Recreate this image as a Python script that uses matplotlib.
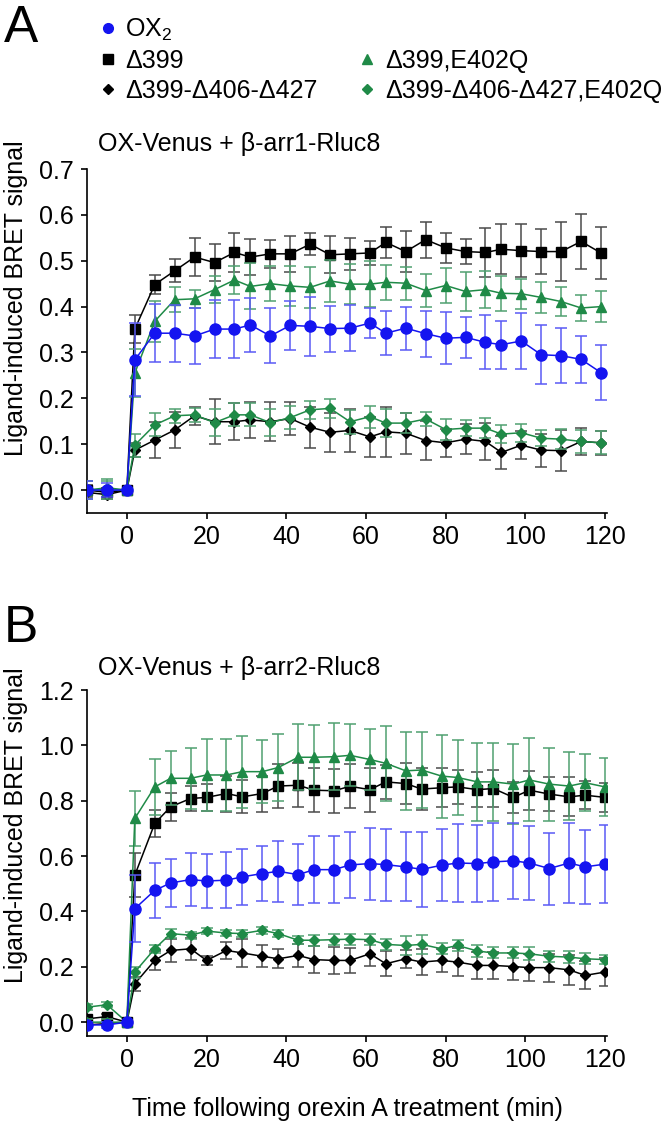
import matplotlib
matplotlib.use("Agg")
import matplotlib.pyplot as plt
from matplotlib.lines import Line2D

plt.rcParams['font.family'] = ['Liberation Sans', 'DejaVu Sans']
plt.rcParams['mathtext.fontset'] = 'custom'
plt.rcParams['mathtext.rm'] = 'Liberation Sans'

# ---------------- data ----------------
labels = ["OX$_2$", "Δ399", "Δ399-Δ406-Δ427", "Δ399,E402Q", "Δ399-Δ406-Δ427,E402Q"]

tA = [-10, -5, 0, 2, 7, 12, 17, 22, 27, 31, 36, 41, 46, 51, 56, 61, 65, 70, 75, 80, 85, 90, 94, 99, 104, 109, 114, 119]
A_ox2 = [0.0, 0.0, 0.0, 0.284, 0.342, 0.342, 0.336, 0.351, 0.351, 0.360, 0.336, 0.359, 0.357, 0.352, 0.353, 0.364, 0.342, 0.353, 0.341, 0.331, 0.333, 0.322, 0.317, 0.325, 0.295, 0.293, 0.285, 0.256]
A_ox2_err = [0.02, 0.015, 0.0, 0.08, 0.063, 0.062, 0.061, 0.063, 0.063, 0.058, 0.06, 0.053, 0.065, 0.05, 0.05, 0.033, 0.048, 0.047, 0.05, 0.057, 0.045, 0.059, 0.052, 0.06, 0.064, 0.06, 0.051, 0.06]
A_d399 = [0.0, -0.005, 0.0, 0.351, 0.448, 0.478, 0.508, 0.496, 0.518, 0.508, 0.515, 0.515, 0.536, 0.513, 0.515, 0.517, 0.54, 0.52, 0.546, 0.528, 0.52, 0.518, 0.525, 0.522, 0.52, 0.52, 0.542, 0.517]
A_d399_err = [0.01, 0.01, 0.0, 0.03, 0.02, 0.025, 0.042, 0.04, 0.043, 0.04, 0.03, 0.04, 0.024, 0.04, 0.035, 0.027, 0.034, 0.045, 0.039, 0.032, 0.027, 0.054, 0.055, 0.058, 0.05, 0.065, 0.06, 0.057]
A_trip = [-0.005, -0.01, 0.0, 0.087, 0.109, 0.131, 0.162, 0.149, 0.149, 0.153, 0.149, 0.156, 0.137, 0.126, 0.13, 0.116, 0.127, 0.124, 0.108, 0.103, 0.111, 0.106, 0.082, 0.098, 0.087, 0.086, 0.106, 0.103]
A_trip_err = [0.01, 0.01, 0.0, 0.015, 0.04, 0.04, 0.02, 0.049, 0.04, 0.04, 0.042, 0.035, 0.045, 0.042, 0.047, 0.044, 0.055, 0.045, 0.042, 0.03, 0.033, 0.04, 0.035, 0.03, 0.036, 0.044, 0.03, 0.026]
A_e402q = [0.0, 0.0, 0.0, 0.255, 0.368, 0.415, 0.417, 0.437, 0.458, 0.444, 0.45, 0.445, 0.442, 0.456, 0.449, 0.449, 0.453, 0.451, 0.435, 0.446, 0.433, 0.437, 0.429, 0.428, 0.42, 0.411, 0.397, 0.4]
A_e402q_err = [0.02, 0.02, 0.0, 0.053, 0.045, 0.027, 0.02, 0.03, 0.03, 0.05, 0.038, 0.043, 0.045, 0.045, 0.043, 0.05, 0.038, 0.036, 0.036, 0.039, 0.042, 0.04, 0.038, 0.033, 0.033, 0.031, 0.029, 0.033]
A_tripE = [0.0, 0.005, 0.0, 0.098, 0.142, 0.162, 0.164, 0.147, 0.164, 0.164, 0.147, 0.158, 0.175, 0.178, 0.149, 0.16, 0.146, 0.146, 0.155, 0.132, 0.135, 0.135, 0.122, 0.125, 0.113, 0.111, 0.106, 0.103]
A_tripE_err = [0.02, 0.02, 0.0, 0.025, 0.025, 0.015, 0.015, 0.03, 0.025, 0.025, 0.03, 0.025, 0.02, 0.02, 0.026, 0.024, 0.03, 0.022, 0.015, 0.022, 0.018, 0.022, 0.02, 0.02, 0.018, 0.022, 0.025, 0.025]

tB = [-10, -5, 0, 2, 7, 11, 16, 20, 25, 29, 34, 38, 43, 47, 52, 56, 61, 65, 70, 74, 79, 83, 88, 92, 97, 101, 106, 111, 115, 120]
B_ox2 = [-0.01, -0.01, 0.0, 0.41, 0.476, 0.503, 0.515, 0.51, 0.513, 0.525, 0.537, 0.545, 0.533, 0.551, 0.551, 0.568, 0.573, 0.569, 0.561, 0.552, 0.567, 0.575, 0.573, 0.579, 0.583, 0.575, 0.555, 0.575, 0.561, 0.571]
B_ox2_err = [0.01, 0.01, 0.0, 0.12, 0.1, 0.088, 0.097, 0.098, 0.1, 0.1, 0.1, 0.11, 0.11, 0.12, 0.12, 0.12, 0.13, 0.13, 0.125, 0.135, 0.13, 0.14, 0.14, 0.14, 0.137, 0.132, 0.13, 0.143, 0.135, 0.14]
B_d399 = [0.012, 0.02, 0.0, 0.531, 0.718, 0.778, 0.808, 0.812, 0.826, 0.814, 0.826, 0.853, 0.856, 0.838, 0.836, 0.852, 0.84, 0.868, 0.862, 0.842, 0.847, 0.85, 0.84, 0.844, 0.812, 0.838, 0.824, 0.814, 0.82, 0.812]
B_d399_err = [0.01, 0.01, 0.0, 0.08, 0.05, 0.05, 0.045, 0.05, 0.065, 0.06, 0.065, 0.08, 0.08, 0.08, 0.08, 0.08, 0.08, 0.06, 0.075, 0.075, 0.07, 0.062, 0.063, 0.066, 0.055, 0.07, 0.06, 0.07, 0.05, 0.053]
B_trip = [-0.01, -0.005, 0.0, 0.139, 0.223, 0.259, 0.265, 0.223, 0.259, 0.25, 0.238, 0.229, 0.241, 0.226, 0.223, 0.223, 0.247, 0.211, 0.229, 0.217, 0.223, 0.217, 0.205, 0.205, 0.201, 0.197, 0.197, 0.189, 0.169, 0.181]
B_trip_err = [0.01, 0.01, 0.0, 0.025, 0.035, 0.04, 0.04, 0.015, 0.03, 0.05, 0.04, 0.035, 0.04, 0.05, 0.048, 0.045, 0.045, 0.045, 0.033, 0.048, 0.04, 0.051, 0.048, 0.048, 0.048, 0.048, 0.051, 0.054, 0.051, 0.051]
B_e402q = [0.0, 0.0, 0.0, 0.736, 0.85, 0.881, 0.881, 0.893, 0.893, 0.905, 0.905, 0.92, 0.957, 0.957, 0.959, 0.964, 0.949, 0.935, 0.908, 0.911, 0.889, 0.884, 0.868, 0.868, 0.86, 0.875, 0.86, 0.853, 0.865, 0.85]
B_e402q_err = [0.01, 0.01, 0.0, 0.1, 0.1, 0.097, 0.11, 0.13, 0.13, 0.13, 0.115, 0.12, 0.12, 0.115, 0.12, 0.112, 0.11, 0.135, 0.14, 0.137, 0.15, 0.136, 0.14, 0.14, 0.145, 0.15, 0.132, 0.122, 0.103, 0.106]
B_tripE = [0.054, 0.063, 0.0, 0.181, 0.265, 0.32, 0.314, 0.329, 0.322, 0.32, 0.332, 0.32, 0.296, 0.296, 0.298, 0.3, 0.298, 0.281, 0.277, 0.281, 0.265, 0.277, 0.257, 0.25, 0.25, 0.247, 0.238, 0.235, 0.229, 0.226]
B_tripE_err = [0.01, 0.01, 0.0, 0.02, 0.015, 0.015, 0.012, 0.012, 0.012, 0.012, 0.012, 0.012, 0.015, 0.02, 0.02, 0.02, 0.02, 0.02, 0.036, 0.033, 0.02, 0.021, 0.02, 0.02, 0.02, 0.024, 0.02, 0.021, 0.02, 0.015]

xticks = [0, 20, 40, 60, 80, 100, 120]
yticksA = [0.0, 0.1, 0.2, 0.3, 0.4, 0.5, 0.6, 0.7]
yticksB = [0.0, 0.2, 0.4, 0.6, 0.8, 1.0, 1.2]

# ---------------- styles ----------------
BLUE = "#1414f0"
BLUE_E = "#5a5af5"
GREEN = "#1f8a47"
GREEN_E = "#4fa070"
BLACK = "#000000"
BLACK_E = "#4a4a4a"

styles = [
    dict(marker="o", color=BLUE, ecolor=BLUE_E, ms=8, z=6),        # OX2
    dict(marker="s", color=BLACK, ecolor=BLACK_E, ms=7, z=4),      # d399
    dict(marker="D", color=BLACK, ecolor=BLACK_E, ms=5.2, z=3),    # trip
    dict(marker="^", color=GREEN, ecolor=GREEN_E, ms=7, z=5),      # E402Q
    dict(marker="D", color=GREEN, ecolor=GREEN_E, ms=5.2, z=3.5),  # tripE
]

W, H = 670, 1126
FS = 18
fig = plt.figure(figsize=(W / 100, H / 100), dpi=100)


def fx(px):
    return px / W


def fy(py):
    return 1 - py / H


def draw_panel(ax, t, series, errs, yticks, ylim, label_center):
    order = [2, 4, 1, 3, 0]
    for i in order:
        st = styles[i]
        ax.errorbar(t, series[i], yerr=errs[i], fmt="-", marker=st["marker"],
                    color=st["color"], ms=st["ms"], mec=st["color"], lw=1.1,
                    ecolor=st["ecolor"], elinewidth=1.1, capsize=4, capthick=1.1,
                    zorder=st["z"])
    ax.set_xlim(-10, 120.5)
    ax.set_ylim(*ylim)
    ax.set_xticks(xticks)
    ax.set_yticks(yticks)
    ax.set_yticklabels([f"{v:.1f}" for v in yticks])
    for s in ["top", "right"]:
        ax.spines[s].set_visible(False)
    for s in ["left", "bottom"]:
        ax.spines[s].set_linewidth(1.2)
    ax.tick_params(direction="out", length=4.5, width=1.2, labelsize=FS, pad=4)
    ax.tick_params(axis="y", pad=5)
    ax.set_ylabel("Ligand-induced BRET signal", fontsize=FS)
    ax.yaxis.set_label_coords(fx(28 - 87) / (520 / W), label_center)
    return ax


axA = fig.add_axes([fx(87), fy(513), fx(520), 344 / H])
draw_panel(axA, tA,
           [A_ox2, A_d399, A_trip, A_e402q, A_tripE],
           [A_ox2_err, A_d399_err, A_trip_err, A_e402q_err, A_tripE_err],
           yticksA, (-0.05, 0.7), (513 - 298) / 344)
fig.text(fx(98), fy(151), "OX-Venus + β-arr1-Rluc8", fontsize=FS, va="baseline", ha="left")

axB = fig.add_axes([fx(87), fy(1036), fx(520), 346 / H])
draw_panel(axB, tB,
           [B_ox2, B_d399, B_trip, B_e402q, B_tripE],
           [B_ox2_err, B_d399_err, B_trip_err, B_e402q_err, B_tripE_err],
           yticksB, (-0.05, 1.2), (1036 - 825) / 346)
fig.text(fx(98), fy(675), "OX-Venus + β-arr2-Rluc8", fontsize=FS, va="baseline", ha="left")

fig.text(fx(347), fy(1116), "Time following orexin A treatment (min)", fontsize=FS,
         ha="center", va="baseline")

# panel letters
fig.text(fx(4), fy(42), "A", fontsize=37, va="baseline", ha="left")
fig.text(fx(4), fy(642), "B", fontsize=37, va="baseline", ha="left")

# legend (manual, two columns)
leg_pos = [(108, 125, 37), (108, 125, 68), (108, 125, 98), (367, 385, 68), (367, 385, 98)]
leg_ms = [7, 6.5, 5, 7, 5]
for i, (mx, tx, base) in enumerate(leg_pos):
    st = styles[i]
    fig.add_artist(Line2D([fx(mx)], [fy(base - 9)], marker=st["marker"], color=st["color"],
                          ms=leg_ms[i], ls="none", transform=fig.transFigure))
    fig.text(fx(tx), fy(base), labels[i], fontsize=FS, va="baseline", ha="left")

fig.savefig("out.png", dpi=100)
